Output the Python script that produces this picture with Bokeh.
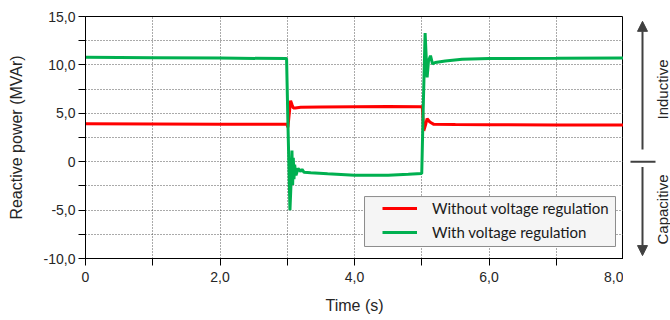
import numpy as np
from bokeh.plotting import figure
from bokeh.layouts import row
from bokeh.models import (Range1d, FixedTicker, Legend, LegendItem, Label,
                          Arrow, NormalHead, BoxAnnotation)
from bokeh.embed import file_html
from bokeh.resources import INLINE

# ---------------- data ----------------
t_without = [0.00, 1.00, 2.00, 2.99, 3.00, 3.01, 3.03, 3.05, 3.07, 3.09, 3.12,
             3.20, 3.50, 4.00, 4.50, 5.00, 5.01, 5.03, 5.06, 5.08, 5.12, 5.18,
             5.50, 6.00, 7.00, 8.00]
q_without = [3.92, 3.90, 3.88, 3.88, 3.75, 3.55, 5.00, 6.30, 5.90, 5.55, 5.55,
             5.62, 5.66, 5.68, 5.70, 5.68, 5.50, 3.20, 3.90, 4.45, 4.10, 3.86,
             3.84, 3.82, 3.80, 3.80]

t_with = [0.00, 1.00, 2.00, 2.99, 3.01, 3.04, 3.06, 3.07, 3.08, 3.09, 3.10,
          3.11, 3.13, 3.16, 3.20, 3.22, 3.25, 3.35, 3.60, 4.00, 4.50, 4.80,
          5.00, 5.02, 5.05, 5.07, 5.08, 5.10, 5.13, 5.16, 5.20, 5.35, 5.60,
          6.00, 7.00, 8.00]
q_with = [10.80, 10.75, 10.70, 10.65, 4.00, -5.00, -1.60, 1.15, -2.40, 0.40,
          -1.80, -0.30, -1.40, -0.70, -1.00, -0.80, -1.10, -1.15, -1.25, -1.40,
          -1.40, -1.30, -1.22, 5.00, 13.30, 10.20, 8.70, 10.40, 10.95, 10.10,
          10.25, 10.40, 10.58, 10.65, 10.68, 10.72]

x_ticks = [0, 1, 2, 3, 4, 5, 6, 7, 8]
x_labels = {0: "0", 1: "", 2: "2,0", 3: "", 4: "4,0", 5: "", 6: "6,0", 7: "", 8: "8,0"}
y_ticks = [-10, -7.5, -5, -2.5, 0, 2.5, 5, 7.5, 10, 12.5, 15]
y_labels = {-10: "-10,0", -7.5: "", -5: "-5,0", -2.5: "", 0: "0", 2.5: "",
            5: "5,0", 7.5: "", 10: "10,0", 12.5: "", 15: "15,0"}

series_names = ["Without voltage regulation", "With voltage regulation"]
series_colors = ["#ff0000", "#00b050"]
side_labels = ["Inductive", "Capacitive"]

FONT = "Liberation Sans"
TXT = "#262626"

p = figure(frame_width=538, frame_height=242,
           min_border_left=85, min_border_right=0,
           min_border_top=16, min_border_bottom=62,
           x_range=Range1d(0, 8), y_range=Range1d(-10, 15),
           output_backend="svg", toolbar_location=None)

p.background_fill_color = "white"
p.border_fill_color = "white"
p.outline_line_color = "black"
p.outline_line_width = 1
p.outline_line_alpha = 1

# grid
p.xgrid.ticker = FixedTicker(ticks=x_ticks[1:-1])
p.ygrid.ticker = FixedTicker(ticks=y_ticks[1:-1])
for g in (p.xgrid, p.ygrid):
    g.grid_line_color = "#555555"
    g.grid_line_dash = "1 2"
    g.grid_line_width = 1

# axes
p.xaxis.ticker = FixedTicker(ticks=x_ticks)
p.xaxis.major_label_overrides = x_labels
p.yaxis.ticker = FixedTicker(ticks=y_ticks)
p.yaxis.major_label_overrides = y_labels
for ax in (p.xaxis, p.yaxis):
    ax.axis_line_color = "black"
    ax.major_tick_line_color = "black"
    ax.major_tick_out = 7
    ax.major_tick_in = 0
    ax.minor_tick_out = 0
    ax.minor_tick_in = 0
    ax.major_label_text_font = FONT
    ax.major_label_text_font_size = "14px"
    ax.major_label_text_color = TXT
    ax.axis_label_text_font = FONT
    ax.axis_label_text_font_size = "16px"
    ax.axis_label_text_font_style = "normal"
    ax.axis_label_text_color = TXT
p.xaxis.major_label_standoff = 6
p.yaxis.major_label_standoff = 3
p.xaxis.axis_label = "Time (s)"
p.yaxis.axis_label = "Reactive power (MVAr)"
p.xaxis.axis_label_standoff = 12
p.yaxis.axis_label_standoff = 16

# series
r_red = p.line(t_without, q_without, line_color=series_colors[0], line_width=3)
r_green = p.line(t_with, q_with, line_color=series_colors[1], line_width=3)

# legend frame
box = BoxAnnotation(left=4.149, right=7.881, top=-3.6, bottom=-8.76,
                    fill_color="#f5f5f5", fill_alpha=1,
                    line_color="#8c8c8c", line_width=1, line_alpha=1)
p.add_layout(box)

legend = Legend(items=[LegendItem(label=series_names[0], renderers=[r_red]),
                       LegendItem(label=series_names[1], renderers=[r_green])],
                location=(297, 16), padding=0, margin=0, spacing=4,
                glyph_width=35, glyph_height=20, label_height=20,
                label_standoff=15, border_line_alpha=0, background_fill_alpha=0,
                label_text_font="Lato", label_text_font_size="15px",
                label_text_color="#1a1a1a")
p.add_layout(legend)

# ---------------- right-hand side panel ----------------
p2 = figure(frame_width=47, frame_height=242,
            min_border_left=0, min_border_right=0,
            min_border_top=16, min_border_bottom=62,
            x_range=Range1d(0, 47), y_range=Range1d(-10, 15),
            x_axis_type=None, y_axis_type=None,
            output_backend="svg", toolbar_location=None)
p2.outline_line_color = None
p2.background_fill_color = "white"
p2.border_fill_color = "white"
p2.grid.visible = False

ac = "#404040"
p2.add_layout(Arrow(x_start=19, y_start=1.26, x_end=19, y_end=14.5,
                    end=NormalHead(size=10, fill_color=ac, line_color=ac),
                    line_color=ac, line_width=2))
p2.add_layout(Arrow(x_start=19, y_start=-0.55, x_end=19, y_end=-9.7,
                    end=NormalHead(size=10, fill_color=ac, line_color=ac),
                    line_color=ac, line_width=2))
p2.add_layout(Arrow(x_start=7, y_start=0, x_end=32, y_end=0, end=None,
                    line_color=ac, line_width=2))
p2.add_layout(Label(x=39, y=7.46, text=side_labels[0], angle=np.pi / 2,
                    text_align="center", text_baseline="middle",
                    text_font=FONT, text_font_size="15px", text_color=TXT))
p2.add_layout(Label(x=39, y=-4.94, text=side_labels[1], angle=np.pi / 2,
                    text_align="center", text_baseline="middle",
                    text_font=FONT, text_font_size="15px", text_color=TXT))

layout = row(p, p2, spacing=0)
open("out.html", "w").write(file_html(layout, INLINE))
